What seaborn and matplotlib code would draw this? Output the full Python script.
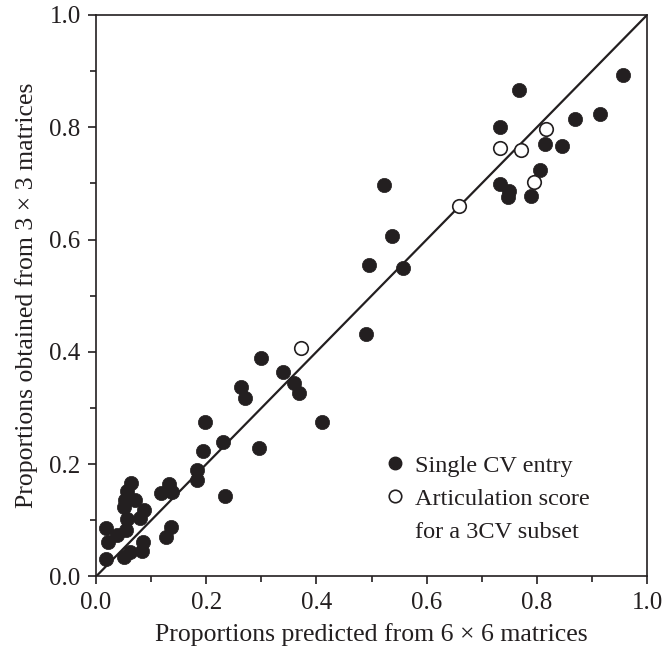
import matplotlib
matplotlib.use('Agg')
import matplotlib.pyplot as plt
import seaborn as sns
import pandas as pd
from matplotlib.lines import Line2D
from matplotlib.ticker import MultipleLocator

# Single CV entries (predicted from 6x6, obtained from 3x3)
single_x = [0.063, 0.056, 0.053, 0.071, 0.051, 0.057, 0.087, 0.080, 0.018, 0.038,
            0.054, 0.022, 0.018, 0.051, 0.061, 0.086, 0.084, 0.118, 0.133, 0.137,
            0.127, 0.136, 0.197, 0.296, 0.231, 0.195, 0.183, 0.184, 0.234,
            0.490, 0.299, 0.340, 0.360, 0.369, 0.264, 0.270, 0.410,
            0.806, 0.789, 0.733, 0.750, 0.748, 0.523, 0.538, 0.496, 0.558,
            0.956, 0.768, 0.915, 0.869, 0.734, 0.815, 0.845]
single_y = [0.166, 0.153, 0.136, 0.136, 0.124, 0.102, 0.118, 0.104, 0.086, 0.074,
            0.083, 0.062, 0.032, 0.034, 0.044, 0.062, 0.046, 0.148, 0.165, 0.151,
            0.071, 0.089, 0.275, 0.228, 0.239, 0.224, 0.190, 0.171, 0.144,
            0.432, 0.389, 0.365, 0.345, 0.327, 0.338, 0.318, 0.276,
            0.724, 0.678, 0.699, 0.687, 0.675, 0.698, 0.607, 0.555, 0.550,
            0.894, 0.867, 0.824, 0.815, 0.800, 0.770, 0.766]

# Articulation scores for 3CV subsets
artic_x = [0.372, 0.659, 0.734, 0.772, 0.816, 0.794]
artic_y = [0.407, 0.660, 0.764, 0.760, 0.797, 0.703]

ticks = [0.0, 0.2, 0.4, 0.6, 0.8, 1.0]
x_label = 'Proportions predicted from 6 \u00d7 6 matrices'
y_label = 'Proportions obtained from 3 \u00d7 3 matrices'
legend_labels = ['Single CV entry', 'Articulation score', 'for a 3CV subset']


def plot_scatter(output_filename):
    sns.set_style('ticks')
    plt.rcParams['font.family'] = ['Liberation Serif', 'DejaVu Serif']
    ink = '#231f20'

    fig = plt.figure(figsize=(6.65, 6.52), dpi=100)
    ax = fig.add_axes([0.1444, 0.1158, 0.8286, 0.8612])

    single = pd.DataFrame({'x': single_x, 'y': single_y})
    artic = pd.DataFrame({'x': artic_x, 'y': artic_y})

    # identity line
    ax.plot([0, 1], [0, 1], color=ink, lw=1.6, zorder=1)

    sns.scatterplot(data=single, x='x', y='y', ax=ax, s=105, color=ink,
                    edgecolor=ink, linewidth=0.5, zorder=3, legend=False)
    sns.scatterplot(data=artic, x='x', y='y', ax=ax, s=95, facecolor='white',
                    edgecolor=ink, linewidth=1.2, zorder=4, legend=False)

    ax.set_xlim(0, 1)
    ax.set_ylim(0, 1)
    ax.set_xticks(ticks)
    ax.set_yticks(ticks)
    ax.set_xticklabels([f'{t:.1f}' for t in ticks])
    ax.set_yticklabels([f'{t:.1f}' for t in ticks])
    ax.xaxis.set_minor_locator(MultipleLocator(0.1))
    ax.yaxis.set_minor_locator(MultipleLocator(0.1))
    ax.tick_params(which='major', direction='out', length=6, width=1.2,
                   labelsize=18, colors=ink, pad=5)
    ax.tick_params(which='minor', direction='out', length=4, width=1.2, colors=ink)
    for side in ['top', 'right', 'bottom', 'left']:
        ax.spines[side].set_visible(True)
        ax.spines[side].set_linewidth(1.2)
        ax.spines[side].set_color(ink)

    ax.set_xlabel(x_label, fontsize=18.5, color=ink, labelpad=7)
    ax.set_ylabel(y_label, fontsize=18.5, color=ink, labelpad=8)

    # legend: the second label wraps onto a line with no marker
    handles = [
        Line2D([], [], ls='none', marker='o', markersize=9, color=ink),
        Line2D([], [], ls='none', marker='o', markersize=9, markerfacecolor='white',
               markeredgecolor=ink, markeredgewidth=1.2),
        Line2D([], [], ls='none', marker=None),
    ]
    leg = ax.legend(handles, legend_labels, loc='lower left',
                    bbox_to_anchor=(0.49, 0.043), frameon=False,
                    handletextpad=0.0, labelspacing=0.45, fontsize=17.5,
                    borderaxespad=0, handlelength=1.6)
    for txt in leg.get_texts():
        txt.set_color(ink)

    fig.savefig(output_filename, dpi=100)


if __name__ == '__main__':
    plot_scatter('out.png')
